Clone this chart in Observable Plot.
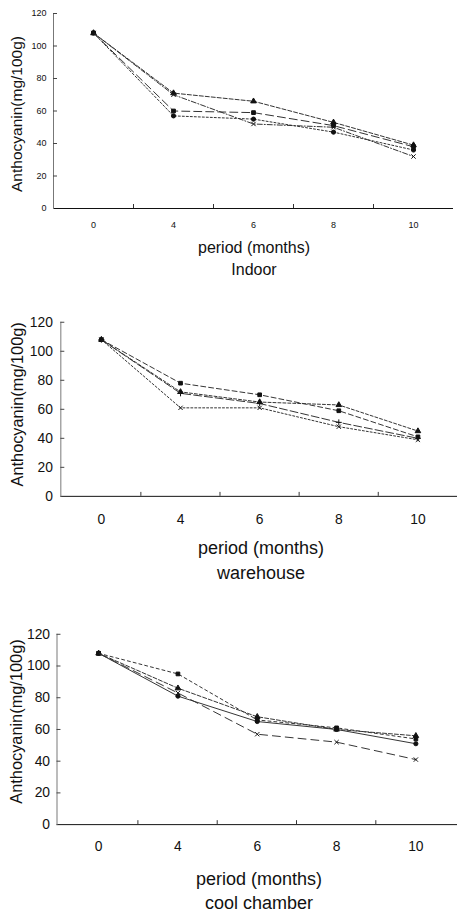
<!DOCTYPE html>
<html><head><meta charset="utf-8">
<script src="https://cdn.jsdelivr.net/npm/d3@7"></script>
<script src="https://cdn.jsdelivr.net/npm/@observablehq/plot@0.6"></script>
<style>
html,body{margin:0;padding:0;background:#fff;overflow:hidden;}
#root{position:relative;width:458px;height:913px;overflow:hidden;font-family:"Liberation Sans",Arial,sans-serif;color:#111;}
.panel{position:absolute;left:0;}
.cap{position:absolute;white-space:nowrap;transform:translateX(-50%);line-height:1;}
</style></head><body><div id="root"></div>
<script>
// ---- data ----
const months = ["0","4","6","8","10"];
const yTicks = [0,20,40,60,80,100,120];
const yLabel = "Anthocyanin(mg/100g)";
const xLabel = "period (months)";
const panelNames = ["Indoor","warehouse","cool chamber"];
const seriesNames = ["T1","T2","T3","T4"];

const indoorT1 = [108,71,66,53,39];
const indoorT2 = [108,60,59,51,38];
const indoorT3 = [108,57,55,47,36];
const indoorT4 = [108,70,52,50,32];

const warehouseT1 = [108,78,70,59,41];
const warehouseT2 = [108,72,65,63,45];
const warehouseT3 = [108,71,64,51,40];
const warehouseT4 = [108,61,61,48,39];

const coolT1 = [108,95,66,61,54];
const coolT2 = [108,86,68,60,56];
const coolT3 = [108,81,65,60,51];
const coolT4 = [108,83,57,52,41];

// ---- styles / layout ----
const panels = [
  {name: panelNames[0], series: [indoorT1, indoorT2, indoorT3, indoorT4],
   styles: [{sym:"triangle", dash:"4,2", fill:"#111"}, {sym:"square", dash:"8,4", fill:"#111"}, {sym:"circle", dash:"2,2", fill:"#111"}, {sym:"times", dash:"5,2,1,2", fill:"none"}],
   top: 0, width: 458, height: 235, ml: 53, mr: 5, mt: 13, mb: 27,
   tickFont: 9, xPad: 13, yPad: 7, labelFont: 15.5, labelX: 17, labelDy: 3,
   capFont: 16, cap1: 248, cap2: 270, capX: 254},
  {name: panelNames[1], series: [warehouseT1, warehouseT2, warehouseT3, warehouseT4],
   styles: [{sym:"square", dash:"5,3", fill:"#111"}, {sym:"triangle", dash:"3,2", fill:"#111"}, {sym:"plus", dash:"8,3", fill:"none"}, {sym:"times", dash:"2,2", fill:"none"}],
   top: 300, width: 463, height: 235, ml: 61, mr: 1, mt: 22, mb: 37,
   tickFont: 14, xPad: 18, yPad: 8, labelFont: 16.5, labelX: 17, labelDy: -5,
   capFont: 18, cap1: 548, cap2: 573, capX: 261},
  {name: panelNames[2], series: [coolT1, coolT2, coolT3, coolT4],
   styles: [{sym:"square", dash:"3,3", fill:"#111"}, {sym:"triangle", dash:"4,2", fill:"#111"}, {sym:"circle", dash:null, fill:"#111"}, {sym:"times", dash:"8,5", fill:"none"}],
   top: 610, width: 462, height: 250, ml: 57, mr: 1, mt: 24, mb: 34,
   tickFont: 14, xPad: 17, yPad: 7, labelFont: 16.5, labelX: 16, labelDy: -8,
   capFont: 18, cap1: 879, cap2: 903, capX: 259}
];

const root = document.getElementById("root");

panels.forEach(cfg => {
  const iw = cfg.width - cfg.ml - cfg.mr;
  const ih = cfg.height - cfg.mt - cfg.mb;
  const step = iw / months.length;
  const marks = [
    Plot.ruleY([0], {stroke: "#111", strokeWidth: 1}),
    Plot.frame({anchor: "left", stroke: "#777"}),
    Plot.tickY(yTicks.slice(1), {y: d => d, insetRight: iw - 4, stroke: "#444"}),
    Plot.tickX(months.slice(1), {x: d => d, dx: -step / 2, insetTop: ih - 4, stroke: "#333"}),
    Plot.axisY(yTicks, {tickSize: 0, tickPadding: cfg.yPad, fontSize: cfg.tickFont, label: null, fill: "#111"}),
    Plot.axisX({tickSize: 0, tickPadding: cfg.xPad, fontSize: cfg.tickFont, label: null, fill: "#111"}),
    Plot.text([yLabel], {frameAnchor: "left", textAnchor: "middle", lineAnchor: "middle", rotate: -90, dx: cfg.labelX - cfg.ml, dy: cfg.labelDy, fontSize: cfg.labelFont, fill: "#111"})
  ];
  cfg.series.forEach((vals, i) => {
    const st = cfg.styles[i];
    const rows = months.map((m, j) => ({month: m, value: vals[j], series: seriesNames[i]}));
    marks.push(Plot.line(rows, {x: "month", y: "value", stroke: "#333", strokeWidth: 1, strokeDasharray: st.dash || undefined}));
    marks.push(Plot.dot(rows, {x: "month", y: "value", symbol: st.sym, r: 2.1, fill: st.fill, stroke: "#111", strokeWidth: 1}));
  });
  const svg = Plot.plot({
    width: cfg.width, height: cfg.height,
    marginLeft: cfg.ml, marginRight: cfg.mr, marginTop: cfg.mt, marginBottom: cfg.mb,
    style: {fontFamily: '"Liberation Sans", Arial, sans-serif', background: "transparent", overflow: "visible"},
    x: {type: "point", domain: months, padding: 0.5},
    y: {domain: [0, 120]},
    marks
  });
  const div = document.createElement("div");
  div.className = "panel";
  div.style.top = cfg.top + "px";
  div.appendChild(svg);
  root.appendChild(div);

  [[xLabel, cfg.cap1], [cfg.name, cfg.cap2]].forEach(([t, cy]) => {
    const c = document.createElement("div");
    c.className = "cap";
    c.textContent = t;
    c.style.fontSize = cfg.capFont + "px";
    c.style.left = cfg.capX + "px";
    c.style.top = (cy - cfg.capFont / 2) + "px";
    root.appendChild(c);
  });
});
</script></body></html>
